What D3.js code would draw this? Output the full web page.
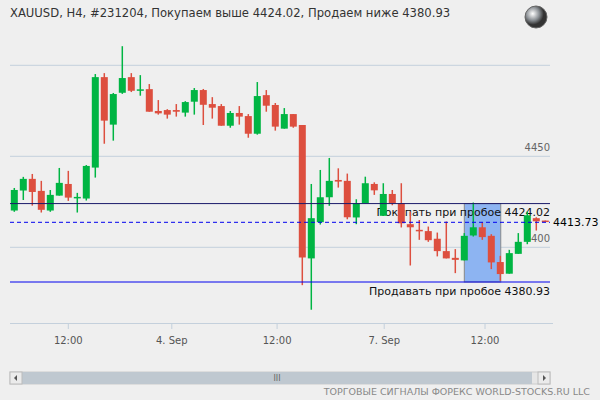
<!DOCTYPE html>
<html>
<head>
<meta charset="utf-8">
<script src="https://cdn.jsdelivr.net/npm/d3@7"></script>
<style>
body { margin: 0; background: #efefef; }
svg { font-family: "DejaVu Sans", sans-serif; }
</style>
</head>
<body>
<svg width="600" height="400"></svg>
<script>
var opens  = [4420.2,4431.2,4437.6,4431,4420.2,4428.4,4434.8,4427.3,4426.8,4443.8,4493.5,4467.4,4484.9,4493.5,4486,4486.9,4474.9,4475.4,4475.4,4474,4480,4486.4,4478.7,4477.6,4466.8,4473.8,4472.1,4462.4,4483.6,4478.2,4465.2,4473.2,4467.2,4393.9,4413.8,4427.5,4437,4436.5,4416.4,4424.2,4434.8,4417.3,4429.3,4424.2,4412.7,4409.6,4408.9,4404.7,4397.9,4394.2,4392.8,4406.5,4411,4406.3,4391.9,4385.5,4396.4,4403,4416,4414.7];
var closes = [4431.5,4437.6,4430.4,4420.6,4428.8,4435.4,4427.3,4427.7,4444.7,4493.5,4469.6,4484.2,4493,4486,4486.8,4474.5,4473.6,4472.9,4474.5,4479.8,4486.4,4478.3,4476.7,4466.8,4473.8,4471.8,4462.4,4483.1,4477.8,4466.3,4473.2,4466.3,4394.4,4416,4427.5,4436.5,4436.1,4416.5,4424.2,4435.2,4431.3,4429.3,4424.2,4413.2,4411,4408.9,4403.9,4397.9,4393.9,4393.1,4406.3,4411,4405.6,4391.7,4385.3,4396.8,4403,4417.6,4414.3,4414.2];
var highs  = [4432.6,4438.7,4440.3,4436.5,4431.5,4443.6,4442,4429.9,4445.2,4495.2,4495.7,4484.8,4510.5,4495.7,4494.6,4489.7,4480.9,4475.9,4478.7,4480.3,4487.5,4487,4482.5,4478.7,4474.9,4477.6,4473.2,4490.8,4486.4,4479.3,4476.5,4473.2,4467.2,4434.8,4442.5,4449.1,4443.4,4440.5,4426.4,4438.8,4435.7,4435.2,4431.5,4435.2,4419.6,4415,4411.4,4408.1,4414.2,4399,4407.8,4424.6,4413.8,4407.2,4395.3,4398.6,4407.8,4419.6,4416.5,4414.7];
var lows   = [4419.5,4426,4422.9,4419.1,4419.5,4428.4,4425.5,4419.1,4425.7,4438.3,4456.9,4458.6,4484.3,4485.3,4483.3,4474.5,4472.9,4470.7,4471.8,4471.8,4472.9,4467.2,4470.7,4466.8,4465.7,4467.4,4460.2,4461.9,4474.5,4464.1,4465.2,4465.7,4379.2,4365.7,4412.5,4422.8,4432.8,4415.4,4412.7,4424.2,4428.8,4417.3,4423.1,4410.9,4390,4404.1,4403,4395,4393.9,4385.8,4392.8,4405.9,4404.1,4388,4381.6,4385.5,4396.4,4401.7,4409.2,4414.2];
var timeTicks = [6, 17.5, 29.2, 41.1, 52.3];
var timeLabels = ["12:00", "4. Sep", "12:00", "7. Sep", "12:00"];
var priceTicks = [4500, 4450, 4400, 4350];
var buyLevel = 4424.02, sellLevel = 4380.93, lastPrice = 4413.73;
var boxFrom = 50, boxTo = 54.05;

var svg = d3.select("svg");
var x = d3.scaleLinear().domain([0, 59]).range([14.3, 545.3]);
var y = d3.scaleLinear().domain([4400, 4450]).range([247.3, 156.3]);
var left = 10, right = 550;

svg.append("text").attr("x", 10).attr("y", 17).attr("font-size", 11.6).attr("fill", "#333")
  .text("XAUUSD, H4, #231204, Покупаем выше 4424.02, Продаем ниже 4380.93");

// globe icon
var grad = svg.append("defs").append("radialGradient").attr("id", "g").attr("cx", "35%").attr("cy", "35%");
grad.append("stop").attr("offset", "0%").attr("stop-color", "#fff");
grad.append("stop").attr("offset", "60%").attr("stop-color", "#8a8f94");
grad.append("stop").attr("offset", "100%").attr("stop-color", "#333");
svg.append("circle").attr("cx", 536).attr("cy", 17).attr("r", 11).attr("fill", "url(#g)").attr("stroke", "#666");

// grid
svg.selectAll(".grid").data(priceTicks.filter(function(d){ return y(d) < 322; })).enter().append("line")
  .attr("x1", left).attr("x2", right).attr("y1", function(d){ return y(d); }).attr("y2", function(d){ return y(d); })
  .attr("stroke", "#c4d0dc");
svg.selectAll(".plab").data([4450, 4400]).enter().append("text")
  .attr("x", right).attr("y", function(d){ return y(d) - 5; }).attr("text-anchor", "end")
  .attr("font-size", 10).attr("fill", "#666").text(function(d){ return d; });

// box
svg.append("rect").attr("x", x(boxFrom)).attr("y", y(buyLevel)).attr("width", x(boxTo) - x(boxFrom))
  .attr("height", y(sellLevel) - y(buyLevel)).attr("fill", "#8db4f2").attr("stroke", "#888");

// level labels
svg.append("text").attr("x", right).attr("y", y(buyLevel) + 12).attr("text-anchor", "end")
  .attr("font-size", 11).attr("fill", "#111").text("Покупать при пробое 4424.02");
svg.append("text").attr("x", right).attr("y", y(sellLevel) + 13).attr("text-anchor", "end")
  .attr("font-size", 11).attr("fill", "#111").text("Продавать при пробое 4380.93");

// candles
var idx = d3.range(opens.length);
var g = svg.append("g");
g.selectAll(".wick").data(idx).enter().append("line")
  .attr("x1", function(i){ return x(i); }).attr("x2", function(i){ return x(i); })
  .attr("y1", function(i){ return y(highs[i]); }).attr("y2", function(i){ return y(lows[i]); })
  .attr("stroke", function(i){ return closes[i] >= opens[i] ? "#00b543" : "#dd4f3f"; }).attr("stroke-width", 1.5);
g.selectAll(".body").data(idx).enter().append("rect")
  .attr("x", function(i){ return x(i) - 3.5; }).attr("width", 7)
  .attr("y", function(i){ return y(Math.max(opens[i], closes[i])); })
  .attr("height", function(i){ return Math.max(1.5, Math.abs(y(opens[i]) - y(closes[i]))); })
  .attr("fill", function(i){ return closes[i] >= opens[i] ? "#00b543" : "#dd4f3f"; });

// level lines
svg.append("line").attr("x1", left).attr("x2", right).attr("y1", y(buyLevel)).attr("y2", y(buyLevel)).attr("stroke", "#1a1a6a");
svg.append("line").attr("x1", left).attr("x2", right).attr("y1", y(lastPrice)).attr("y2", y(lastPrice))
  .attr("stroke", "#0000ee").attr("stroke-dasharray", "4,3");
svg.append("line").attr("x1", left).attr("x2", right).attr("y1", y(sellLevel)).attr("y2", y(sellLevel)).attr("stroke", "#0000ee");
svg.append("text").attr("x", 553).attr("y", y(lastPrice) + 4).attr("font-size", 11).attr("fill", "#000")
  .text(lastPrice.toFixed(2));

// time axis
svg.append("line").attr("x1", left).attr("x2", 553).attr("y1", 323.5).attr("y2", 323.5).attr("stroke", "#c4d0dc");
svg.selectAll(".tt").data(timeTicks).enter().append("line")
  .attr("x1", function(d){ return x(d); }).attr("x2", function(d){ return x(d); })
  .attr("y1", 323.5).attr("y2", 329).attr("stroke", "#c4d0dc");
svg.selectAll(".tl").data(timeTicks).enter().append("text")
  .attr("x", function(d){ return x(d); }).attr("y", 344).attr("text-anchor", "middle")
  .attr("font-size", 10).attr("fill", "#555").text(function(d, i){ return timeLabels[i]; });

// scrollbar
svg.append("rect").attr("x", 10).attr("y", 372).attr("width", 540).attr("height", 12).attr("fill", "#e6e6e6").attr("stroke", "#ccc");
svg.append("rect").attr("x", 22).attr("y", 372).attr("width", 510).attr("height", 12).attr("fill", "#bfc8d0");
svg.append("rect").attr("x", 10).attr("y", 372).attr("width", 12).attr("height", 12).attr("fill", "#ebebeb").attr("stroke", "#bbb");
svg.append("rect").attr("x", 538).attr("y", 372).attr("width", 12).attr("height", 12).attr("fill", "#ebebeb").attr("stroke", "#bbb");
svg.append("path").attr("d", "M17,375 L14,378 L17,381 Z").attr("fill", "#555");
svg.append("path").attr("d", "M543,375 L546,378 L543,381 Z").attr("fill", "#555");
svg.append("text").attr("x", 277).attr("y", 381).attr("font-size", 8).attr("fill", "#666").attr("text-anchor", "middle").text("III");
svg.append("text").attr("x", 590).attr("y", 395).attr("text-anchor", "end").attr("font-size", 9.5)
  .attr("fill", "#888").text("ТОРГОВЫЕ СИГНАЛЫ ФОРЕКС WORLD-STOCKS.RU LLC");
</script>
</body>
</html>
